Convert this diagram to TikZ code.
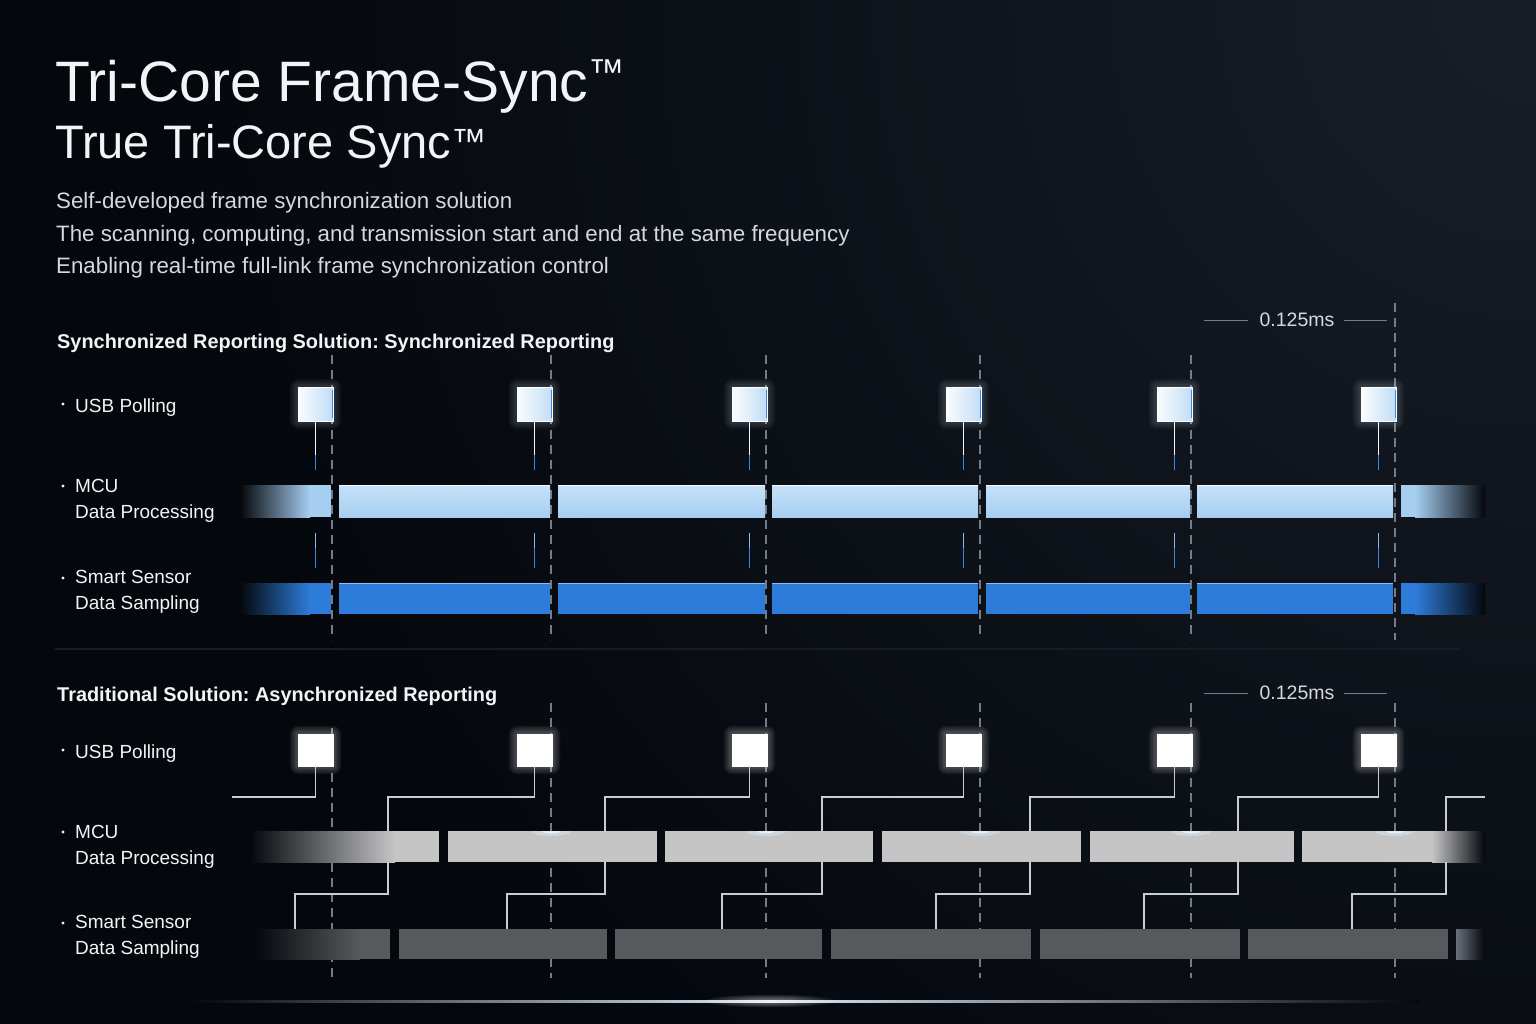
\documentclass[tikz,border=0pt]{standalone}
\usepackage{fontspec}
\setmainfont{Liberation Sans}
\frenchspacing
\definecolor{bg}{HTML}{04070C}
\definecolor{bglight}{HTML}{181E28}
\definecolor{txt}{HTML}{F2F4F7}
\definecolor{txtsoft}{HTML}{D5D9DF}
\definecolor{dashc}{HTML}{737C8B}
\definecolor{mcub}{HTML}{A6CEF1}
\definecolor{mcubtop}{HTML}{C6E1F8}
\definecolor{senb}{HTML}{2E7CDA}
\definecolor{mcug}{HTML}{C5C5C6}
\definecolor{seng}{HTML}{58595C}
\definecolor{wire}{HTML}{C9CDD3}
\definecolor{stemblue}{HTML}{3D86E0}
\definecolor{sepc}{HTML}{161B25}
\tikzset{
  lbl/.style={anchor=base west, inner sep=0, text=txt, font=\fontsize{19}{21}\selectfont},
  para/.style={anchor=base west, inner sep=0, text=txtsoft, font=\fontsize{22.3}{25}\selectfont},
  heading/.style={anchor=base west, inner sep=0, text=txt, font=\bfseries\fontsize{19.9}{22}\selectfont},
  dashline/.style={draw=dashc, line width=1.1pt, dash pattern=on 9pt off 6pt},
  syncbox/.style={draw=white, line width=0.8pt, inner sep=0, minimum width=35pt, minimum height=34pt, left color=white!95!mcub, right color=mcub!70!white},
  tradbox/.style={fill=white, draw=white, inner sep=0, minimum width=35pt, minimum height=32pt},
  wireline/.style={draw=wire, line width=1.3pt},
  msr/.style={anchor=center, inner sep=0, text=txtsoft, font=\fontsize{19.5}{22}\selectfont},
  msrline/.style={draw=dashc, line width=1pt},
  bulletdot/.style={circle, fill=txt, inner sep=0, minimum size=3.2pt}
}
\newcommand{\glowrect}[6]{%
  \foreach \g in {1,...,6}{%
    \fill[#5, opacity=#6, rounded corners={\g*1.5pt}] ({#1-\g*1.4},{#2-\g*1.4}) rectangle ({#3+\g*1.4},{#4+\g*1.4});
  }%
}
\begin{document}
\begin{tikzpicture}[x=1pt,y=-1pt]
\useasboundingbox (0,0) rectangle (1536,1024);
% background
\begin{scope}
  \clip (0,0) rectangle (1536,1024);
  \fill[bg] (0,0) rectangle (1536,1024);
  \shade[inner color=bglight, outer color=bg] (1536,0) circle (1400pt);
\end{scope}

% ---------- texts ----------
\node[anchor=base west, inner sep=0, text=txt, font=\fontsize{57}{60}\selectfont] (title) at (55,102) {Tri-Core Frame-Sync\raisebox{17pt}{\fontsize{36}{36}\selectfont ™}};
\node[anchor=base west, inner sep=0, text=txt, font=\fontsize{47}{50}\selectfont] (subtitle) at (55,159) {True Tri-Core Sync\raisebox{5pt}{\fontsize{35}{35}\selectfont ™}};
\node[para] (p1) at (56,209) {Self-developed frame synchronization solution};
\node[para] (p2) at (56,242) {The scanning, computing, and transmission start and end at the same frequency};
\node[para] (p3) at (56,274) {Enabling real-time full-link frame synchronization control};

\node[heading] (h1) at (57,348) {Synchronized Reporting Solution: Synchronized Reporting};
\node[heading] (h2) at (57,701) {Traditional Solution: Asynchronized Reporting};

% row labels, synchronized
\node[bulletdot] (b1) at (63,404) {};
\node[lbl] (l1) at (75,412) {USB Polling};
\node[bulletdot] (b2) at (63,486) {};
\node[lbl] (l2) at (75,492) {MCU};
\node[lbl] (l3) at (75,518) {Data Processing};
\node[bulletdot] (b3) at (63,578) {};
\node[lbl] (l4) at (75,583) {Smart Sensor};
\node[lbl] (l5) at (75,609) {Data Sampling};
% row labels, traditional
\node[bulletdot] (b4) at (63,750) {};
\node[lbl] (l6) at (75,758) {USB Polling};
\node[bulletdot] (b5) at (63,832) {};
\node[lbl] (l7) at (75,838) {MCU};
\node[lbl] (l8) at (75,864) {Data Processing};
\node[bulletdot] (b6) at (63,923) {};
\node[lbl] (l9) at (75,928) {Smart Sensor};
\node[lbl] (l10) at (75,954) {Data Sampling};

% 0.125ms markers
\node[msr] (m1) at (1297,320) {0.125ms};
\draw[msrline] (1204,320) -- (1248,320) (1344,320) -- (1387,320);
\node[msr] (m2) at (1297,693) {0.125ms};
\draw[msrline] (1204,693) -- (1248,693) (1344,693) -- (1387,693);

% separator
\draw[sepc, line width=1.2pt] (55,649) -- (1460,649);

% ---------- synchronized section ----------
\foreach \d in {332,551,766,980,1191}{\draw[dashline] (\d,355) -- (\d,640);}
\draw[dashline] (1395,303) -- (1395,640);

% MCU bars
\shade[left color=bg, right color=mcub] (240,485) rectangle (310,517);
\fill[mcub] (310,485) rectangle (331,517);
\foreach \a/\b in {339/550,558/765,772/978,986/1190,1197/1393}{
  \shade[top color=mcubtop, bottom color=mcub] (\a,485) rectangle (\b,517);
  \draw[white, opacity=0.85, line width=1pt] (\a,485.5) -- (\b,485.5);
}
\fill[mcub] (1401,485) rectangle (1415,517);
\shade[left color=mcub, right color=bg] (1415,485) rectangle (1485,517);
% sensor bars
\shade[left color=bg, right color=senb] (240,583) rectangle (310,614);
\fill[senb] (310,583) rectangle (331,614);
\foreach \a/\b in {339/550,558/765,772/978,986/1190,1197/1393}{
  \fill[senb] (\a,583) rectangle (\b,614);
  \draw[white!60!senb, opacity=0.8, line width=0.8pt] (\a,583.5) -- (\b,583.5);
}
\fill[senb] (1401,583) rectangle (1415,614);
\shade[left color=senb, right color=bg] (1415,583) rectangle (1485,614);

% USB polling boxes and stems
\foreach \d [count=\i] in {332,551,766,980,1191,1395}{
  \glowrect{\d-34}{387}{\d+1}{421}{white!50!mcub}{0.035}
  \node[syncbox] (sb\i) at (\d-16.5,404) {};
  \draw[stemblue, line width=1.5pt] (\d+0.3,390) -- (\d+0.3,418);
  \coordinate (se\i) at (\d-16.5,470);
  \coordinate (lt\i) at (\d-16.5,533);
  \coordinate (lb\i) at (\d-16.5,568);
  \draw[line width=1.4pt, white!85!mcub] (sb\i.south) -- (se\i);
  \draw[line width=1.4pt, stemblue] (\d-16.5,455) -- (se\i);
  \draw[line width=1.4pt, white!40!stemblue] (lt\i) -- (lb\i);
  \draw[line width=1.4pt, stemblue] (\d-16.5,548) -- (lb\i);
}

% ---------- traditional section ----------
\foreach \d in {551,766,980,1191,1395}{\draw[dashline] (\d,703) -- (\d,978);}
\draw[dashline] (332,728) -- (332,978);

% MCU bars
\shade[left color=bg, right color=mcug] (250,831) rectangle (395,862);
\fill[mcug] (395,831) rectangle (439,862);
\foreach \a/\b in {448/657,665/873,882/1081,1090/1294}{
  \fill[mcug] (\a,831) rectangle (\b,862);
}
\fill[mcug] (1302,831) rectangle (1432,862);
\shade[left color=mcug, right color=bg] (1432,831) rectangle (1485,862);
\begin{scope}
  \clip (250,831) rectangle (1485,862);
  \foreach \d in {551,766,980,1191,1395}{
    \fill[white!60!mcub, opacity=0.45] (\d,831) ellipse (20pt and 5pt);
    \fill[white, opacity=0.6] (\d,831) ellipse (9pt and 2.5pt);
  }
\end{scope}
% sensor bars
\shade[left color=bg, right color=seng] (255,929) rectangle (360,959);
\fill[seng] (360,929) rectangle (390,959);
\foreach \a/\b in {399/607,615/822,831/1031,1040/1240,1248/1448}{
  \fill[seng] (\a,929) rectangle (\b,959);
}
\shade[left color=seng!80!mcub, right color=bg] (1456,929) rectangle (1485,959);

% USB polling boxes
\foreach \d [count=\i] in {332,551,766,980,1191,1395}{
  \glowrect{\d-34}{734}{\d+1}{766}{white}{0.05}
  \node[tradbox] (tb\i) at (\d-16.5,750) {};
}
% connectors
\coordinate (w0) at (232,797);
\draw[wireline] (tb1.south) |- (w0);
\foreach \j/\ux/\lx in {2/388/295, 3/605/507, 4/822/722, 5/1030/936, 6/1238/1144}{
  \coordinate (mk\j) at (\ux,797);
  \coordinate (mt\j) at (\ux,831);
  \coordinate (mb\j) at (\ux,862);
  \coordinate (lk\j) at (\lx,894);
  \coordinate (st\j) at (\lx,929);
  \draw[wireline] (tb\j.south) |- (mk\j) -- (mt\j);
  \draw[wireline] (mb\j) |- (lk\j) -- (st\j);
}
\coordinate (xr) at (1485,797);
\coordinate (mt7) at (1446,831);
\coordinate (mb7) at (1446,862);
\coordinate (lk7) at (1352,894);
\coordinate (st7) at (1352,929);
\draw[wireline] (xr) -| (mt7);
\draw[wireline] (mb7) |- (lk7) -- (st7);

% bottom glow line
\shade[left color=bg, right color=white!60!mcub] (190,1000) rectangle (770,1002.5);
\shade[left color=white!60!mcub, right color=bg] (770,1000) rectangle (1420,1002.5);
\foreach \g in {1,...,6}{\fill[white, opacity=0.08] (770,1001) ellipse ({(10+\g*9)*1pt} and {(0.8+\g*0.9)*1pt});}
\end{tikzpicture}
\end{document}
